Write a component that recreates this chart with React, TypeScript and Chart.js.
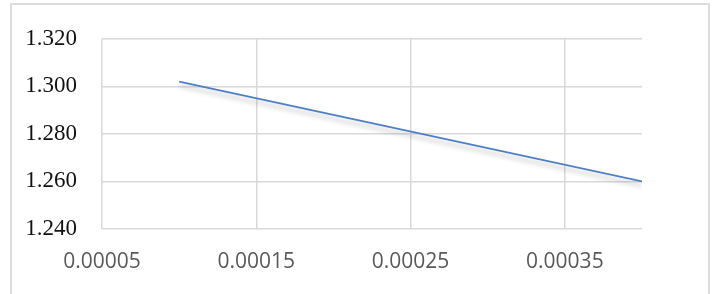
import React, { useEffect, useRef } from "react";
import { Chart, registerables } from "chart.js";

Chart.register(...registerables);

const xValues = [0.0001, 0.0002, 0.0003, 0.0004];
const yValues = [1.302, 1.288, 1.274, 1.26];
const xTicks = [0.00005, 0.00015, 0.00025, 0.00035];
const yTicks = [1.24, 1.26, 1.28, 1.3, 1.32];

const shadowPlugin = {
  id: "lineShadow",
  beforeDatasetDraw(chart: any) {
    const ctx = chart.ctx;
    ctx.save();
    ctx.shadowColor = "rgba(0,0,0,0.28)";
    ctx.shadowBlur = 5;
    ctx.shadowOffsetX = 0;
    ctx.shadowOffsetY = 4;
  },
  afterDatasetDraw(chart: any) {
    chart.ctx.restore();
  },
};

export default function App() {
  const ref = useRef<HTMLCanvasElement | null>(null);

  useEffect(() => {
    if (!ref.current) return;
    const chart = new Chart(ref.current, {
      type: "scatter",
      data: {
        datasets: [
          {
            data: xValues.map((x, i) => ({ x, y: yValues[i] })),
            showLine: true,
            borderColor: "#4F7FC4",
            borderWidth: 1.8,
            pointRadius: 0,
            tension: 0,
          },
        ],
      },
      options: {
        animation: false,
        responsive: false,
        devicePixelRatio: 1,
        layout: { padding: { top: 34, right: 70, bottom: 0, left: 0 } },
        plugins: { legend: { display: false }, tooltip: { enabled: false } },
        scales: {
          x: {
            type: "linear",
            min: 0.00005,
            max: 0.0004,
            afterFit: (s: any) => {
              s.height = 65;
            },
            afterBuildTicks: (s: any) => {
              s.ticks = xTicks.map((v) => ({ value: v }));
            },
            border: { display: false },
            grid: { color: "#d9d9d9", lineWidth: 1.5, drawTicks: false },
            ticks: {
              padding: 20,
              color: "#595959",
              font: { family: "'Open Sans'", size: 21 },
              callback: (v: any) => Number(v).toFixed(5),
            },
          },
          y: {
            min: 1.24,
            max: 1.32,
            afterFit: (s: any) => {
              s.width = 102;
            },
            afterBuildTicks: (s: any) => {
              s.ticks = yTicks.map((v) => ({ value: v }));
            },
            border: { display: false },
            grid: { color: "#d9d9d9", lineWidth: 1.5, drawTicks: false },
            ticks: {
              padding: 25,
              color: "#111111",
              font: { family: "'Liberation Serif'", size: 23 },
              callback: (v: any) => Number(v).toFixed(3),
            },
          },
        },
      },
      plugins: [shadowPlugin],
    });
    return () => chart.destroy();
  }, []);

  return (
    <div style={{ position: "fixed", left: 0, top: 0, width: 712, height: 294, background: "#fff", overflow: "hidden" }}>
      <div
        style={{
          position: "absolute",
          left: 10,
          top: 3,
          width: 696,
          height: 300,
          borderTop: "2px solid #dcdcdc",
          borderLeft: "2px solid #dcdcdc",
          borderRight: "2px solid #dcdcdc",
        }}
      />
      <canvas ref={ref} width={712} height={294} style={{ position: "absolute", left: 0, top: 0, width: 712, height: 294 }} />
    </div>
  );
}
